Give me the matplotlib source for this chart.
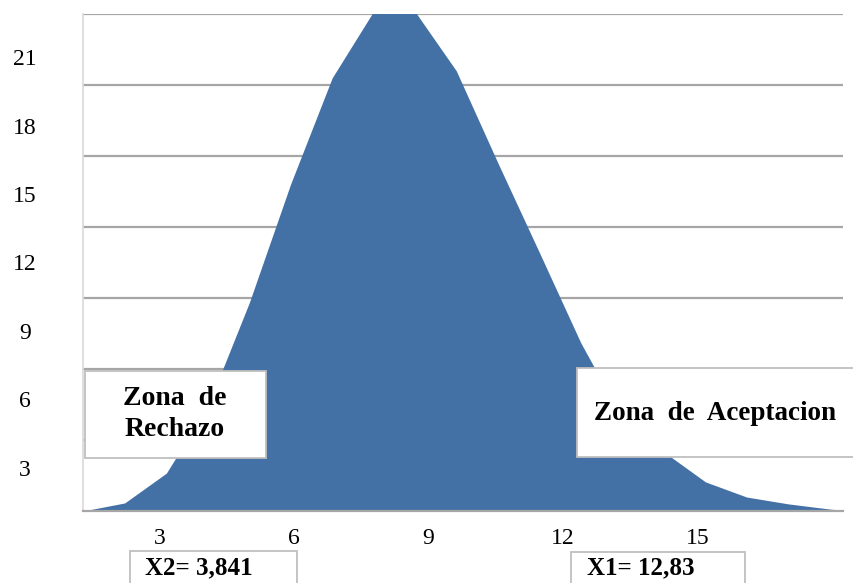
import matplotlib
matplotlib.use("Agg")
import matplotlib.pyplot as plt
from matplotlib.patches import Rectangle

# ---- data ----
x_vals = [1.29, 2.22, 3.15, 4.07, 5.00, 5.92, 6.85, 7.77, 8.70, 9.62,
          10.55, 11.48, 12.40, 13.33, 14.25, 15.18, 16.10, 17.03, 17.96, 18.25]
y_vals = [0.0, 0.34, 1.6, 4.4, 8.8, 13.8, 18.3, 21.1, 21.1, 18.6,
          14.7, 10.9, 7.1, 3.9, 2.5, 1.23, 0.59, 0.30, 0.08, 0.03]
x_ticks = [3, 6, 9, 12, 15]
x_tick_labels = ["3", "6", "9", "12", "15"]
grid_vals = [3, 6, 9, 12, 15, 18, 21]
y_tick_labels = ["3", "6", "9", "12", "15", "18", "21"]
# positions where the y labels sit (they are offset from the gridlines in the original)
y_label_pos = [1.82, 4.73, 7.60, 10.52, 13.39, 16.27, 19.18]

zone_left = "Zona  de\nRechazo"
zone_right = "Zona  de  Aceptacion"
crit_left = "X2= 3,841"
crit_right = "X1= 12,83"

W, H = 854, 583
fig = plt.figure(figsize=(W / 100, H / 100), dpi=100)
ax = fig.add_axes([83 / W, 1 - 511 / H, (843 - 83) / W, (511 - 14) / H])

ax.fill_between(x_vals, y_vals, 0, color="#4471A5", linewidth=0, zorder=2)
ax.set_xlim(x_vals[0], x_vals[-1])
ax.set_ylim(0, 21)

ax.set_yticks(grid_vals, minor=True)
ax.grid(which="minor", axis="y", color="#a6a6a6", linewidth=1.6, zorder=1)
ax.set_axisbelow(True)
ax.set_yticks(y_label_pos)
ax.set_yticklabels(y_tick_labels)
ax.set_xticks(x_ticks)
ax.set_xticklabels(x_tick_labels)

serif = "Liberation Serif"
ax.tick_params(axis="y", which="both", length=0, pad=41.8)
ax.tick_params(axis="x", which="both", length=0, pad=12)
for lab in ax.get_yticklabels():
    lab.set_fontfamily(serif)
    lab.set_fontsize(17)
    lab.set_ha("center")
for lab in ax.get_xticklabels():
    lab.set_fontfamily(serif)
    lab.set_fontsize(17)

for s in ["top", "right"]:
    ax.spines[s].set_visible(False)
ax.spines["left"].set_color("#d9d9d9")
ax.spines["left"].set_linewidth(1.2)
ax.spines["bottom"].set_color("#a6a6a6")
ax.spines["bottom"].set_linewidth(1.6)


def box(x0, y0, x1, y1):
    r = Rectangle((x0 / W, 1 - y1 / H), (x1 - x0) / W, (y1 - y0) / H,
                  transform=fig.transFigure, facecolor="white",
                  edgecolor="#bfbfbf", linewidth=1.3, zorder=5)
    fig.add_artist(r)


box(85, 371, 266, 458)
box(577, 368, 880, 457)
box(130, 551, 297, 600)
box(571, 552, 745, 600)

txt_kw = dict(fontfamily=serif, fontweight="bold", color="black", zorder=6)
fig.text(175 / W, 1 - 414 / H, zone_left, ha="center", va="center",
         fontsize=20, linespacing=1.35, **txt_kw)
fig.text(715 / W, 1 - 413 / H, zone_right, ha="center", va="center",
         fontsize=19.5, **txt_kw)
fig.text(145 / W, 1 - 568 / H, crit_left, ha="left", va="center",
         fontsize=18, **txt_kw)
fig.text(587 / W, 1 - 568 / H, crit_right, ha="left", va="center",
         fontsize=18, **txt_kw)

fig.savefig("out.png", dpi=100)
